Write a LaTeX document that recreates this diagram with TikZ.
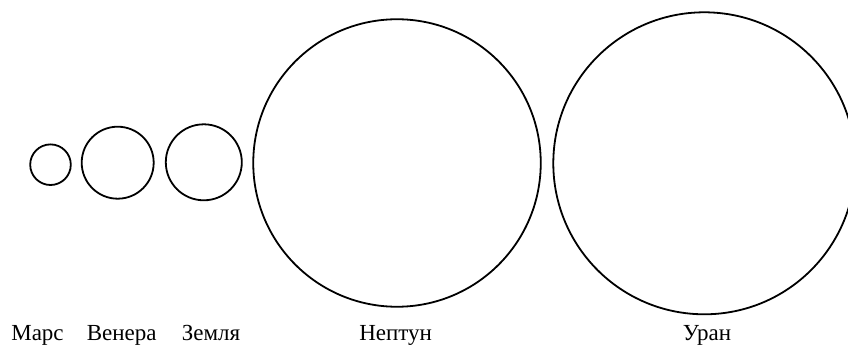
\documentclass[tikz,border=0pt]{standalone}
\usepackage{fontspec}
\setmainfont{Liberation Serif}
\begin{document}
\begin{tikzpicture}[x=1pt,y=-1pt,
  planet/.style={circle,draw=black,line width=1.8pt,inner sep=0pt,fill=none},
  lbl/.style={anchor=base,inner sep=0pt,font=\fontsize{23}{27}\selectfont}]
\useasboundingbox (0,0) rectangle (848,347);
\node[planet,minimum size=40.6pt] (mars) at (50.5,164.7) {};
\node[planet,minimum size=72pt] (venus) at (117.7,162.7) {};
\node[planet,minimum size=76pt] (earth) at (203.8,162.3) {};
\node[planet,minimum size=287.5pt] (neptune) at (397,163) {};
\node[planet,minimum size=302pt] (uranus) at (704.3,163.3) {};
\node[lbl] (lmars) at (37.5,340) {Марс};
\node[lbl] (lvenus) at (121.7,340) {Венера};
\node[lbl] (learth) at (211,340) {Земля};
\node[lbl] (lneptune) at (395.7,340) {Нептун};
\node[lbl] (luranus) at (707,340) {Уран};
\end{tikzpicture}
\end{document}
